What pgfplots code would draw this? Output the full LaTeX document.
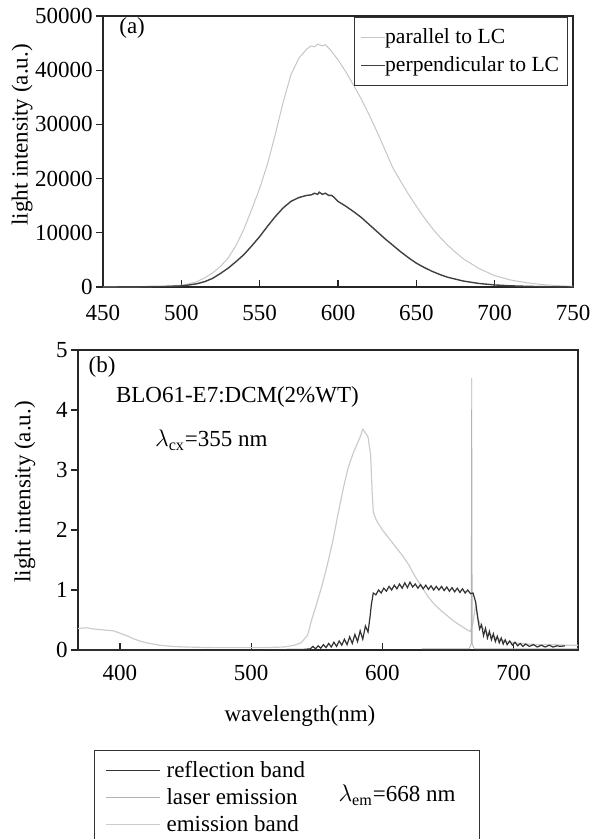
\documentclass[border=0pt]{standalone}
\usepackage{fontspec}
\setmainfont{Liberation Serif}
\usepackage{pgfplots}
\pgfplotsset{compat=1.18}

\pgfplotstableread{
x y
450 0
470 30
480 80
490 160
500 330
505 600
510 1000
515 1700
520 2600
525 3800
530 5400
535 7700
540 10700
545 14400
550 18200
555 22700
560 28200
565 34100
570 39200
575 42200
580 43900
583 44500
585 44300
587 44800
590 44500
592 44700
595 43800
600 41900
605 39700
610 37200
615 34600
620 31700
625 28600
630 25300
635 22000
640 19500
645 17100
650 14900
655 12800
660 10900
665 9200
670 7700
675 6400
680 5200
690 3400
700 2100
710 1300
720 800
730 450
740 250
750 120
}\parallel

\pgfplotstableread{
x y
450 0
470 20
490 100
500 200
505 380
510 600
515 1000
520 1600
525 2500
530 3500
535 4700
540 6000
545 7600
550 9300
555 11200
560 13000
565 14600
570 15800
575 16500
580 16900
583 17000
585 17300
587 17100
588 17500
590 17100
592 17300
594 16900
596 16900
598 16400
600 15800
605 14900
610 13900
615 12800
620 11500
625 10200
630 8900
635 7700
640 6500
645 5400
650 4400
655 3600
660 2900
665 2300
670 1800
680 1100
690 650
700 380
710 220
720 130
730 70
740 30
750 0
}\perpendicular

\pgfplotstableread{
x y
368 0.36
375 0.37
380 0.35
385 0.34
390 0.33
395 0.32
400 0.28
405 0.24
410 0.19
415 0.15
420 0.12
425 0.10
430 0.08
440 0.06
450 0.05
470 0.04
490 0.04
510 0.04
525 0.05
533 0.08
538 0.12
543 0.25
546 0.50
550 0.78
554 1.08
558 1.42
562 1.80
566 2.25
570 2.68
574 3.05
578 3.30
581 3.45
583 3.55
585 3.68
587 3.62
589 3.55
591 3.25
592 2.70
593 2.30
595 2.18
597 2.10
600 2.00
605 1.86
610 1.72
615 1.58
620 1.42
625 1.22
630 1.05
635 0.88
640 0.75
645 0.65
650 0.56
655 0.47
660 0.40
665 0.33
667 0.31
669 0.45
671 0.75
673 0.50
676 0.38
680 0.28
685 0.22
690 0.17
695 0.14
700 0.12
710 0.10
720 0.09
730 0.09
740 0.08
749 0.08
}\emission

\pgfplotstableread{
x y
630 0.02
666 0.02
667.6 0.10
668 4.53
668.4 0.10
670 0.02
749 0.02
}\laser

\pgfplotstableread{
x y
368 0
400 0
450 0
500 0
540 0.01
545 0.02
547 0.06
549 0.02
551 0.07
553 0.03
555 0.09
557 0.04
559 0.11
561 0.05
563 0.13
565 0.06
567 0.15
569 0.08
571 0.18
573 0.09
575 0.22
577 0.11
579 0.26
581 0.14
583 0.32
585 0.18
587 0.40
589 0.30
590.5 0.55
591.5 0.75
593 0.95
595 0.92
597 1.00
599 0.95
601 1.03
603 0.98
605 1.06
607 1.00
609 1.08
611 1.02
613 1.10
615 1.03
617 1.12
619 1.04
621 1.13
623 1.05
625 1.10
627 1.03
629 1.09
631 1.02
633 1.08
635 1.01
637 1.07
639 1.00
641 1.06
643 1.00
645 1.06
647 0.99
649 1.05
651 0.98
653 1.04
655 0.97
657 1.03
659 0.96
661 1.02
663 0.95
665 1.00
667 0.94
669 0.95
671 0.80
672.5 0.55
674 0.35
675.5 0.42
677 0.24
678.5 0.36
680 0.20
681.5 0.31
683 0.17
684.5 0.27
686 0.14
687.5 0.23
689 0.12
690.5 0.20
692 0.10
693.5 0.17
695 0.09
697 0.15
699 0.08
701 0.13
703 0.07
705 0.11
707 0.06
709 0.10
712 0.06
715 0.09
718 0.05
721 0.08
724 0.05
727 0.08
730 0.05
733 0.07
736 0.06
739 0.07
}\reflection

\begin{document}
\begin{tikzpicture}[font=\fontsize{11.5}{13.5}\selectfont]
\pgfplotsset{
  every axis/.append style={
    scale only axis,
    /pgf/number format/1000 sep={},
    /pgf/number format/assume math mode=true,
    xtick pos=bottom, ytick pos=left,
    xtick align=inside, ytick align=outside,
    major tick length=3.5pt,
    axis line style={black!85, line width=0.6pt},
    every tick/.style={black!85, line width=0.6pt},
    yticklabel style={inner xsep=1.5pt},
    legend cell align=left,
  },
}
% ---------- panel (a) ----------
\begin{axis}[
  at={(51.5pt,-143.5pt)}, anchor=south west,
  width=235pt, height=135.5pt,
  xmin=450, xmax=750, ymin=0, ymax=50000,
  xtick={450,500,...,750}, ytick={0,10000,...,50000},
  xticklabel style={yshift=-5.5pt},
  scaled y ticks=false,
  ylabel={light intensity (a.u.)},
  ylabel style={at={(rel axis cs:-0.172,0.561)}, anchor=center},
  legend style={at={(rel axis cs:0.989,0.996)}, anchor=north east,
    draw=black!80, line width=0.5pt, fill=white,
    inner xsep=3pt, inner ysep=4.5pt, row sep=3pt,
    nodes={inner xsep=1.1pt, inner ysep=1pt},
    font=\fontsize{10.8}{12.5}\selectfont},
  legend image code/.code={\draw[#1] (0pt,0pt) -- (10.5pt,0pt);
    \draw[#1,overlay] (10.5pt,0pt) -- (12pt,0pt);},
]
\addplot[gray!45, line width=0.5pt] table[x=x,y=y] {\parallel};
\addlegendentry{parallel to LC}
\addplot[black!75, line width=0.7pt] table[x=x,y=y] {\perpendicular};
\addlegendentry{perpendicular to LC}
\node[anchor=center] at (rel axis cs:0.062,0.957) {(a)};
\end{axis}
% ---------- panel (b) ----------
\begin{axis}[
  at={(39pt,-325pt)}, anchor=south west,
  width=250pt, height=150pt,
  xmin=368, xmax=749, ymin=0, ymax=5,
  xtick={400,500,600,700}, ytick={0,1,...,5},
  xticklabel style={yshift=-4pt},
  xlabel={wavelength(nm)},
  xlabel style={at={(rel axis cs:0.444,-0.22)}, anchor=center},
  ylabel={light intensity (a.u.)},
  ylabel style={at={(rel axis cs:-0.106,0.527)}, anchor=center},
  reverse legend,
  legend style={at={(rel axis cs:0.054,-0.362)}, anchor=north west,
    draw=none, fill=none, inner sep=0pt, row sep=2pt,
    nodes={inner xsep=3pt, inner ysep=1pt},
    font=\fontsize{11.5}{13.5}\selectfont},
  legend image code/.code={\draw[#1] (0pt,0pt) -- (23.5pt,0pt); \path (0pt,0pt) -- (27pt,0pt);},
]
\addplot[gray!40, line width=0.6pt] table[x=x,y=y] {\emission};
\addlegendentry{emission band}
\addplot[gray!60, line width=0.4pt] table[x=x,y=y] {\laser};
\addlegendentry{laser emission}
\addplot[black!80, line width=0.6pt] table[x=x,y=y] {\reflection};
\addlegendentry{reflection band}
\node[anchor=center] at (rel axis cs:0.048,0.945) {(b)};
\node[anchor=west] at (rel axis cs:0.062,0.843) {BLO61-E7:DCM(2\%WT)};
\node[anchor=west] at (rel axis cs:0.140,0.700) {$\lambda_{\mathrm{cx}}$=355 nm};
\end{axis}
% legend frame of panel (b) and lambda_em note
\draw[black!80, line width=0.5pt] (47pt,-375pt) rectangle (239.5pt,-440pt);
\node[anchor=center] at (198.5pt,-397.5pt) {$\lambda_{\mathrm{em}}$=668 nm};
\pgfresetboundingbox
\useasboundingbox (0pt,0pt) rectangle (295pt,-419.5pt);
\end{tikzpicture}
\end{document}
